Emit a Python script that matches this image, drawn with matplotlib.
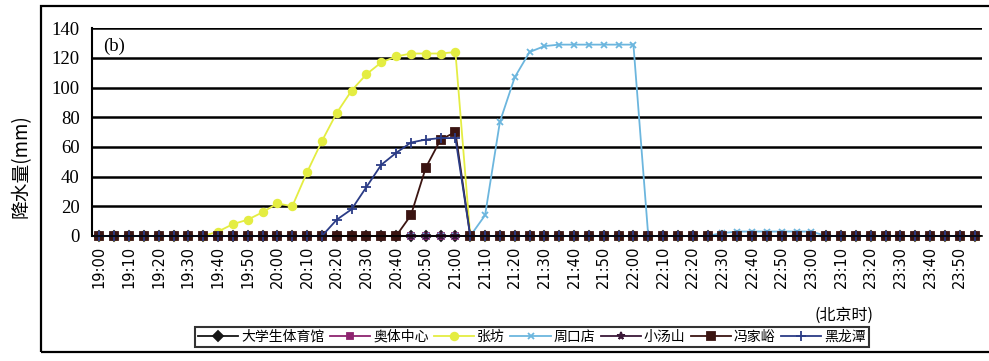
import matplotlib
matplotlib.use("Agg")
import matplotlib.pyplot as plt
from matplotlib.patches import Rectangle

plt.rcParams['font.family'] = ['Noto Sans CJK SC', 'DejaVu Sans']

# ---------- data: 5-min rainfall, 19:00 - 23:55 ----------
n_pts = 60
tick_labels = [f"{19 + m // 60}:{m % 60:02d}" for m in range(0, 300, 10)]

daxue = [0] * 60                       # 大学生体育馆
aoti = [0] * 60                        # 奥体中心
zhangfang = ([0] * 8 +
             [3, 8, 11, 16, 22, 20, 43, 64, 83, 98, 109, 117, 121, 123, 123, 123, 124] +
             [0] * 35)                 # 张坊
zhoukoudian = ([0] * 26 +
               [14, 77, 107, 124, 128, 129, 129, 129, 129, 129, 129] +
               [0] * 5 +
               [2, 3, 3, 3, 3, 3, 3] +
               [0] * 11)               # 周口店
xiaotangshan = [0] * 60                # 小汤山
fengjiayu = [0] * 21 + [14, 46, 65, 70] + [0] * 35            # 冯家峪
heilongtan = [0] * 16 + [11, 18, 33, 48, 56, 63, 65, 66, 66] + [0] * 35  # 黑龙潭

series = [
    ("大学生体育馆", daxue, "#161616", "D", 5),
    ("奥体中心", aoti, "#8e2470", "s", 5),
    ("张坊", zhangfang, "#e4ed42", "o", 5.5),
    ("周口店", zhoukoudian, "#6cb6de", "x", 5),
    ("小汤山", xiaotangshan, "#3a1838", "*", 5.5),
    ("冯家峪", fengjiayu, "#3b1512", "s", 5.5),
    ("黑龙潭", heilongtan, "#2b3c86", "+", 6.5),
]

# ---------- figure ----------
W, H = 989, 361
fig = plt.figure(figsize=(W / 100, H / 100), dpi=100)
ax = fig.add_axes([92 / W, 1 - 236 / H, (982 - 92) / W, (236 - 28.3) / H])

x = list(range(n_pts))
handles = []
for name, vals, col, mk, ms in series:
    ln, = ax.plot(x, vals, color=col, lw=1.3, marker=mk, ms=ms,
                  mfc=col, mec=col, mew=1.3, clip_on=False, label=name)
    handles.append(ln)

ax.set_xlim(-0.5, n_pts - 0.5)
ax.set_ylim(0, 140)
ax.set_yticks(range(0, 141, 20))
ax.set_xticks(range(0, n_pts, 2))
ax.set_xticklabels(tick_labels, rotation=90, fontsize=10.5, family='DejaVu Sans')
for lab in ax.get_yticklabels():
    lab.set_family('Liberation Serif')
    lab.set_fontsize(13.5)
ax.tick_params(axis='both', length=0)
ax.tick_params(axis='y', pad=9)
ax.tick_params(axis='x', pad=7)

ax.yaxis.grid(True, color='black', lw=1.8)
ax.set_axisbelow(True)
for s in ('top', 'right'):
    ax.spines[s].set_visible(False)
ax.spines['left'].set_linewidth(1.5)
ax.spines['bottom'].set_linewidth(1.2)

ax.text(0.012, 0.915, "(b)", transform=ax.transAxes, family='Liberation Serif',
        fontsize=13.5, va='center')

fig.text(21 / W, 1 - 166 / H, "降水量(mm)", rotation=90, ha='center', va='center',
         fontsize=13.5)
fig.text(844 / W, 1 - 315 / H, "(北京时)", ha='center', va='center', fontsize=11.5)

leg = fig.legend(handles, [h.get_label() for h in handles], loc='center',
                 bbox_to_anchor=(532 / W, 1 - 337 / H), ncol=7,
                 prop={'family': ['Noto Sans CJK SC'], 'size': 10},
                 handlelength=2.9, handletextpad=0.2, columnspacing=0.4,
                 borderpad=0.2, frameon=True, fancybox=False)
leg.get_frame().set_edgecolor('black')
leg.get_frame().set_linewidth(1.5)

# outer border around the whole chart
fig.patches.append(Rectangle((41 / W, 1 - 352 / H), 1.0, (352 - 6) / H,
                             transform=fig.transFigure, fill=False,
                             lw=1.6, ec='black'))

fig.savefig("out.png", dpi=100, facecolor='white')
